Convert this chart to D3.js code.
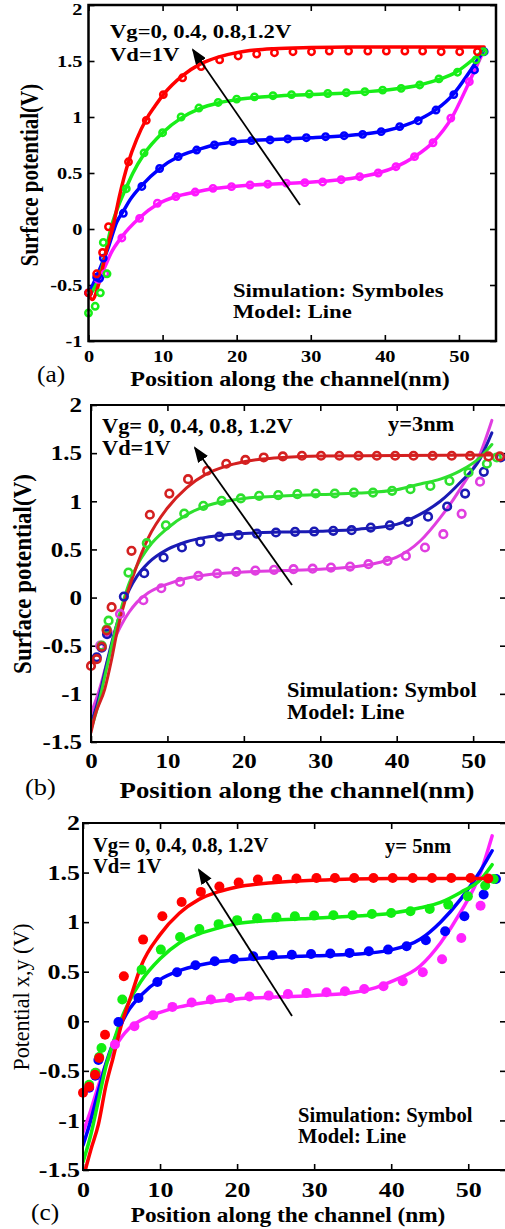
<!DOCTYPE html>
<html>
<head>
<meta charset="utf-8">
<script src="https://cdn.jsdelivr.net/npm/d3@7"></script>
<style>
  body { margin: 0; background: #fff; }
  svg { display: block; }
</style>
</head>
<body>
<svg id="chart" width="505" height="1229"></svg>
<script>
// ---- tick values ----
const xTicks = [0, 10, 20, 30, 40, 50];
const yTicksA = [-1, -0.5, 0, 0.5, 1, 1.5, 2];
const yTicksBC = [-1.5, -1, -0.5, 0, 0.5, 1, 1.5, 2];

// series order everywhere: Vg = 0 (magenta), 0.4 (blue), 0.8 (green), 1.2 (red)

// ---- panel (a): simulation symbols [x nm, V] ----
const simA_mag = [[1.3,-0.45],[2.2,-0.40],[4.5,-0.08],[6.9,0.095],[9.3,0.23],[11.8,0.29],[14.4,0.33],[16.8,0.363],[19.3,0.378],[21.8,0.393],[24.2,0.40],[26.7,0.41],[29.2,0.414],[31.6,0.42],[34.1,0.44],[36.6,0.467],[39.1,0.50],[41.5,0.556],[44.0,0.646],[46.5,0.77],[48.9,0.99],[51.4,1.315]];
const simA_blue = [[0,-0.57],[1.1,-0.43],[1.5,-0.44],[2.0,-0.26],[4.7,0.14],[7.2,0.38],[9.6,0.54],[12.1,0.646],[14.6,0.705],[17.0,0.75],[19.5,0.78],[22.0,0.789],[24.5,0.795],[26.9,0.804],[29.4,0.815],[32.0,0.824],[34.5,0.833],[37.0,0.845],[39.5,0.869],[42.0,0.914],[44.5,0.967],[46.9,1.062],[49.3,1.20],[52.1,1.42],[53.4,1.583]];
const simA_green = [[0,-0.75],[0.9,-0.69],[1.6,-0.57],[2.0,-0.12],[2.5,-0.40],[5.1,0.36],[7.5,0.68],[10.0,0.86],[12.5,1.0],[14.9,1.08],[17.5,1.13],[20.0,1.16],[22.4,1.18],[24.9,1.19],[27.4,1.20],[29.8,1.205],[32.3,1.21],[34.8,1.217],[37.3,1.226],[39.7,1.24],[42.2,1.256],[44.7,1.286],[47.3,1.34],[49.8,1.40],[52.3,1.51],[53.3,1.583]];
const simA_red = [[0,-0.57],[1.1,-0.40],[1.9,-0.21],[2.7,0.02],[5.4,0.60],[7.8,0.97],[10.1,1.20],[12.7,1.35],[15.2,1.45],[17.7,1.51],[20.2,1.545],[22.7,1.562],[25.1,1.574],[27.6,1.583],[30.1,1.583],[32.5,1.589],[35.1,1.589],[37.7,1.589],[40.2,1.589],[42.7,1.589],[45.1,1.589],[47.6,1.583],[50.1,1.583],[52.5,1.583]];

// ---- panel (a): model lines ----
const lineA_mag = [[0,-0.6],[1,-0.48],[2.2,-0.34],[3,-0.22],[4.5,-0.07],[6.9,0.1],[9.3,0.22],[11.8,0.29],[14.4,0.33],[16.8,0.36],[19.3,0.378],[24,0.4],[29,0.415],[34,0.44],[36.6,0.465],[39.1,0.5],[41.5,0.555],[44,0.645],[46.5,0.775],[49,0.99],[51.3,1.3],[53.4,1.6]];
const lineA_blue = [[0,-0.58],[1.5,-0.36],[2.7,-0.16],[3.8,0.06],[4.7,0.16],[5.6,0.26],[7.2,0.39],[9.6,0.54],[12.1,0.645],[14.6,0.705],[17,0.75],[19.5,0.775],[22,0.79],[25,0.8],[30,0.815],[35,0.835],[37.5,0.85],[40,0.875],[42.5,0.92],[44.7,0.98],[47,1.07],[49.2,1.2],[51.6,1.42],[53.4,1.6]];
const lineA_green = [[0,-0.6],[1,-0.5],[2,-0.3],[3,0.0],[4,0.2],[5.1,0.37],[6,0.5],[7.5,0.67],[10,0.86],[12.5,0.99],[15,1.075],[17.5,1.125],[20,1.155],[25,1.185],[30,1.2],[35,1.215],[40,1.24],[44.7,1.286],[47.5,1.34],[49.6,1.4],[52,1.52],[53.4,1.6]];
const lineA_red = [[0,-0.58],[0.5,-0.63],[1.5,-0.46],[2.5,-0.17],[3.3,0.02],[4.2,0.3],[5.4,0.6],[6.5,0.8],[7.8,0.98],[9,1.1],[10.1,1.2],[12.7,1.37],[15,1.47],[17.5,1.535],[20,1.575],[22.5,1.598],[25,1.61],[30,1.62],[35,1.625],[40,1.625],[45,1.625],[50,1.625],[53.4,1.625]];

// ---- panel (b): simulation symbols ----
const simB_mag = [[1.2,-0.50],[2.2,-0.36],[3.8,-0.17],[6.85,-0.028],[9.2,0.097],[11.65,0.163],[14.05,0.225],[16.5,0.25],[19.0,0.267],[21.5,0.28],[23.95,0.288],[26.5,0.295],[29.0,0.30],[31.4,0.312],[33.9,0.322],[36.3,0.347],[38.8,0.381],[41.2,0.433],[43.7,0.52],[46.1,0.658],[48.5,0.87],[50.9,1.204]];
const simB_blue = [[0.75,-0.62],[1.4,-0.52],[2.1,-0.38],[4.3,0.01],[6.96,0.253],[9.5,0.416],[11.9,0.52],[14.3,0.579],[16.8,0.634],[19.3,0.648],[21.7,0.665],[24.2,0.676],[26.7,0.683],[29.2,0.686],[31.7,0.693],[34.1,0.70],[36.6,0.727],[39.1,0.75],[41.5,0.786],[44.1,0.84],[46.6,0.946],[48.95,1.08],[51.4,1.306],[53.6,1.455]];
const simB_green = [[1.4,-0.50],[2.05,-0.33],[2.3,-0.24],[4.9,0.26],[7.3,0.565],[9.8,0.75],[12.2,0.873],[14.7,0.953],[17.1,1.005],[19.6,1.03],[22.0,1.057],[24.5,1.064],[27.0,1.074],[29.4,1.081],[31.9,1.081],[34.4,1.09],[36.9,1.09],[39.4,1.109],[41.8,1.126],[44.4,1.16],[46.9,1.213],[49.4,1.30],[51.8,1.39],[53.1,1.455]];
const simB_red = [[0,-0.71],[0.75,-0.64],[1.4,-0.51],[2.05,-0.34],[2.7,-0.10],[5.3,0.485],[7.7,0.86],[10.25,1.08],[12.7,1.23],[15.2,1.317],[17.7,1.39],[20.2,1.43],[22.6,1.455],[25.1,1.466],[27.6,1.473],[30.1,1.473],[32.5,1.473],[35.0,1.473],[37.4,1.473],[39.8,1.473],[42.2,1.473],[44.7,1.473],[47.2,1.473],[49.6,1.473],[52.0,1.466],[53.5,1.466]];

// ---- panel (b): model lines ----
const lineB_mag = [[0,-1.2],[1,-0.98],[2,-0.7],[3,-0.45],[4,-0.28],[5,-0.15],[6,-0.05],[7.5,0.05],[10,0.14],[12.5,0.2],[15,0.235],[20,0.265],[25,0.28],[30,0.295],[35,0.325],[38,0.37],[40,0.42],[43.1,0.59],[45.7,0.83],[48.3,1.126],[50.9,1.49],[52.45,1.84]];
const lineB_blue = [[0,-1.3],[1,-1.05],[2,-0.7],[3,-0.38],[4,-0.12],[5,0.08],[6,0.22],[7.5,0.36],[10,0.5],[12.5,0.58],[15,0.625],[17.5,0.65],[20,0.665],[25,0.68],[30,0.69],[35,0.71],[40,0.76],[43.1,0.866],[45.7,1.0],[48.3,1.195],[50.9,1.44],[52.45,1.71]];
const lineB_green = [[0,-1.37],[1,-1.1],[2,-0.75],[3,-0.4],[4,-0.1],[5,0.15],[6,0.33],[7.5,0.52],[10,0.72],[12.5,0.86],[15,0.95],[17.5,1.0],[20,1.03],[25,1.055],[30,1.07],[35,1.085],[40,1.12],[43.1,1.18],[45.7,1.23],[48.3,1.316],[50.9,1.455],[52.45,1.59]];
const lineB_red = [[0,-1.4],[0.5,-1.23],[1.8,-0.95],[2.7,-0.64],[3.4,-0.36],[4.5,-0.02],[5.8,0.29],[7.5,0.62],[10,0.93],[12.5,1.14],[15,1.28],[17.5,1.36],[20,1.41],[22.5,1.44],[25,1.455],[30,1.47],[40,1.475],[52.5,1.48]];

// ---- panel (c): simulation symbols ----
const simC_mag = [[1.7,-0.52],[4.15,-0.235],[6.67,-0.05],[9.1,0.06],[11.6,0.145],[14.1,0.19],[16.6,0.219],[19.1,0.235],[21.6,0.25],[24.1,0.259],[26.6,0.276],[29.0,0.286],[31.6,0.293],[34.0,0.303],[36.5,0.326],[39.0,0.353],[41.5,0.403],[44.1,0.494],[46.6,0.625],[49.1,0.84],[51.6,1.165]];
const simC_blue = [[0.8,-0.67],[1.6,-0.55],[2.0,-0.39],[4.6,-0.007],[7.2,0.235],[9.65,0.397],[12.2,0.494],[14.6,0.565],[17.1,0.605],[19.6,0.629],[22.1,0.656],[24.6,0.666],[27.1,0.672],[29.6,0.679],[32.1,0.683],[34.6,0.69],[37.1,0.706],[39.6,0.723],[42.0,0.757],[44.5,0.817],[47.0,0.908],[49.5,1.06],[52.0,1.278],[53.6,1.436]];
const simC_green = [[0.8,-0.64],[1.6,-0.52],[2.1,-0.36],[2.4,-0.27],[5.1,0.22],[7.6,0.52],[10.1,0.723],[12.6,0.85],[15.1,0.93],[17.6,0.98],[20.0,1.02],[22.6,1.04],[25.1,1.05],[27.5,1.06],[30.0,1.066],[32.5,1.07],[35.0,1.07],[37.5,1.083],[40.0,1.093],[42.5,1.11],[45.0,1.133],[47.4,1.177],[49.95,1.26],[52.2,1.37],[53.3,1.436]];
const simC_red = [[0,-0.72],[0.8,-0.66],[1.56,-0.54],[2.1,-0.37],[2.86,-0.135],[5.3,0.454],[7.8,0.824],[10.3,1.06],[12.8,1.204],[15.3,1.305],[17.7,1.36],[20.2,1.40],[22.7,1.43],[25.2,1.436],[27.7,1.44],[30.3,1.446],[32.7,1.446],[35.2,1.446],[37.7,1.446],[40.2,1.446],[42.8,1.446],[45.3,1.446],[47.8,1.446],[50.3,1.446],[52.6,1.44]];

// ---- panel (c): model lines ----
const lineC_mag = [[0,-1.12],[1,-0.9],[2,-0.65],[3,-0.43],[4,-0.28],[5,-0.16],[6,-0.07],[7.5,0.01],[10,0.09],[12.5,0.145],[15,0.18],[17.5,0.205],[20,0.225],[25,0.245],[30,0.26],[35,0.29],[38,0.34],[40,0.4],[43.8,0.56],[46.4,0.79],[49,1.1],[51.6,1.5],[53.1,1.87]];
const lineC_blue = [[0,-1.25],[1,-1.0],[2,-0.7],[3,-0.42],[4,-0.2],[5,-0.02],[6,0.12],[7.5,0.26],[10,0.42],[12.5,0.51],[15,0.565],[17.5,0.6],[20,0.62],[25,0.645],[30,0.66],[35,0.675],[40,0.72],[43.8,0.83],[46.4,1.0],[49,1.23],[51.6,1.52],[53.1,1.72]];
const lineC_green = [[0,-1.42],[1,-1.15],[2,-0.8],[3,-0.45],[4,-0.2],[5,0.03],[6,0.2],[7.5,0.4],[10,0.63],[12.5,0.79],[15,0.88],[17.5,0.94],[20,0.985],[25,1.02],[30,1.04],[35,1.06],[40,1.09],[43.8,1.145],[46.4,1.2],[49,1.3],[51.6,1.43],[53.1,1.58]];
const lineC_red = [[0.3,-1.5],[1,-1.3],[2,-1.04],[3,-0.64],[3.9,-0.37],[5,-0.03],[6.3,0.27],[7.5,0.55],[10,0.874],[12.5,1.09],[15,1.227],[17.5,1.305],[20,1.355],[25,1.4],[30,1.422],[35,1.436],[40,1.44],[53.2,1.44]];

const SERIF = '"Liberation Serif", "Times New Roman", serif';

// layout + style for each panel (pixel positions, not data)
const panels = [
  {
    box: { left: 88.5, right: 496, top: 5, bottom: 341 }, xMax: 55, yDomain: [-1, 2], yTicks: yTicksA,
    colors: ['#ff18ff', '#0000ff', '#18ee18', '#ff0000'],
    sim: [simA_mag, simA_blue, simA_green, simA_red],
    model: [lineA_mag, lineA_blue, lineA_green, lineA_red],
    marker: { r: 3.2, sw: 2.5, filled: false }, lineW: 3.5, frameW: 2.5,
    tick: { size: 17, s: 1.2, yPad: 6, xBase: 21 },
    xLabel: { text: 'Position along the channel(nm)', x: 290, y: 386, size: 21, s: 1.15 },
    yLabel: { text: 'Surface potential(V)', x: 38, y: 175, size: 21, s: 1.15, weight: 'bold' },
    tag: { text: '(a)', x: 37, y: 382, size: 23 },
    noteFont: { size: 19.5, s: 1.16 },
    notes: [
      { text: 'Vg=0, 0.4, 0.8,1.2V', x: 110, y: 38 },
      { text: 'Vd=1V', x: 110, y: 61 },
      { text: 'Simulation: Symboles', x: 233, y: 297 },
      { text: 'Model: Line', x: 233, y: 318 }
    ],
    arrow: { from: [300, 205], to: [193, 50] }
  },
  {
    box: { left: 91, right: 506, top: 405, bottom: 742 }, xMax: 54.3, yDomain: [-1.5, 2], yTicks: yTicksBC,
    colors: ['#e03ee0', '#1a1ab4', '#2ee02e', '#d42020'],
    sim: [simB_mag, simB_blue, simB_green, simB_red],
    model: [lineB_mag, lineB_blue, lineB_green, lineB_red],
    marker: { r: 3.8, sw: 2.6, filled: false }, lineW: 3, frameW: 2,
    tick: { size: 20, s: 1.25, yPad: 9, xBase: 26 },
    xLabel: { text: 'Position along the channel(nm)', x: 297, y: 798, size: 23, s: 1.165 },
    yLabel: { text: 'Surface potential(V)', x: 31, y: 574, size: 23, s: 1.1, weight: 'bold' },
    tag: { text: '(b)', x: 25, y: 795, size: 24 },
    noteFont: { size: 20, s: 1.12 },
    notes: [
      { text: 'Vg= 0, 0.4, 0.8, 1.2V', x: 102, y: 433 },
      { text: 'Vd=1V', x: 102, y: 455 },
      { text: 'y=3nm', x: 388, y: 431 },
      { text: 'Simulation: Symbol', x: 287, y: 697 },
      { text: 'Model: Line', x: 287, y: 719 }
    ],
    arrow: { from: [292, 585], to: [195, 448] }
  },
  {
    box: { left: 83, right: 506, top: 823, bottom: 1170 }, xMax: 54.9, yDomain: [-1.5, 2], yTicks: yTicksBC,
    colors: ['#ff22ff', '#0000ff', '#11ee11', '#ff0000'],
    sim: [simC_mag, simC_blue, simC_green, simC_red],
    model: [lineC_mag, lineC_blue, lineC_green, lineC_red],
    marker: { r: 5, sw: 0, filled: true }, lineW: 3.5, frameW: 2,
    tick: { size: 20, s: 1.3, yPad: 3, xBase: 27 },
    xLabel: { text: 'Position along the channel (nm)', x: 288, y: 1222, size: 22, s: 1.06 },
    yLabel: { text: 'Potential x,y (V)', x: 29, y: 997, size: 22, s: 1.05, weight: 'normal' },
    tag: { text: '(c)', x: 31, y: 1220, size: 23 },
    noteFont: { size: 20, s: 1.03 },
    notes: [
      { text: 'Vg= 0, 0.4, 0.8, 1.2V', x: 93, y: 852 },
      { text: 'Vd= 1V', x: 93, y: 873 },
      { text: 'y= 5nm', x: 385, y: 853 },
      { text: 'Simulation: Symbol', x: 298, y: 1122 },
      { text: 'Model: Line', x: 298, y: 1143 }
    ],
    arrow: { from: [292, 1016], to: [199, 870] }
  }
];

const svg = d3.select('#chart');
const defs = svg.append('defs');

defs.append('marker')
  .attr('id', 'arrowHead')
  .attr('markerUnits', 'userSpaceOnUse')
  .attr('markerWidth', 16).attr('markerHeight', 12)
  .attr('refX', 14).attr('refY', 6)
  .attr('orient', 'auto')
  .append('path')
  .attr('d', 'M0,0 L16,6 L0,12 Z')
  .attr('fill', '#000');

// plain text with a horizontal stretch, like the squeezed figure
const addText = (g, txt, x, y, size, s, weight, anchor) =>
  g.append('text')
    .attr('transform', `translate(${x},${y}) scale(${s},1)`)
    .attr('font-family', SERIF)
    .attr('font-size', size)
    .attr('font-weight', weight)
    .attr('text-anchor', anchor || 'start')
    .text(txt);

const drawPanel = (p, i) => {
  const g = svg.append('g');
  const { left, right, top, bottom } = p.box;

  const x = d3.scaleLinear().domain([0, p.xMax]).range([left, right]);
  const y = d3.scaleLinear().domain(p.yDomain).range([bottom, top]);

  defs.append('clipPath').attr('id', 'clip' + i)
    .append('rect').attr('x', left).attr('y', top).attr('width', right - left).attr('height', bottom - top);

  // ticks pointing inwards on all four sides
  const tl = 6;
  const styleAxis = sel => {
    sel.select('.domain').remove();
    sel.selectAll('line').attr('stroke', '#000').attr('stroke-width', 1.6);
    sel.attr('font-family', SERIF).attr('font-size', p.tick.size).attr('font-weight', 'bold');
  };

  const gB = g.append('g').attr('transform', `translate(0,${bottom})`)
    .call(d3.axisBottom(x).tickValues(xTicks).tickSizeInner(-tl).tickSizeOuter(0).tickFormat(d => String(d)));
  styleAxis(gB);
  gB.selectAll('text').attr('y', p.tick.xBase).attr('dy', null).attr('transform', `scale(${p.tick.s},1)`);

  const gL = g.append('g').attr('transform', `translate(${left},0)`)
    .call(d3.axisLeft(y).tickValues(p.yTicks).tickSizeInner(-tl).tickSizeOuter(0).tickFormat(d => String(d)));
  styleAxis(gL);
  gL.selectAll('text')
    .attr('x', -p.tick.yPad / p.tick.s)
    .attr('dy', '0.34em')
    .attr('transform', `scale(${p.tick.s},1)`);
  // keep the top label inside the picture
  gL.selectAll('.tick').filter(d => y(d) < 8).select('text').attr('dy', '0.55em');

  const gT = g.append('g').attr('transform', `translate(0,${top})`)
    .call(d3.axisTop(x).tickValues(xTicks).tickSizeInner(-tl).tickSizeOuter(0).tickFormat(''));
  styleAxis(gT);

  const gR = g.append('g').attr('transform', `translate(${right},0)`)
    .call(d3.axisRight(y).tickValues(p.yTicks).tickSizeInner(-tl).tickSizeOuter(0).tickFormat(''));
  styleAxis(gR);

  // series: model line, then its simulation symbols
  const line = d3.line().x(d => x(d[0])).y(d => y(d[1])).curve(d3.curveMonotoneX);
  const lines = g.append('g').attr('clip-path', `url(#clip${i})`);
  const dots = g.append('g');

  p.model.forEach((m, k) => {
    lines.append('path')
      .datum(m)
      .attr('d', line)
      .attr('fill', 'none')
      .attr('stroke', p.colors[k])
      .attr('stroke-width', p.lineW)
      .attr('stroke-linecap', 'round')
      .attr('stroke-linejoin', 'round');

    dots.append('g').selectAll('circle')
      .data(p.sim[k])
      .join('circle')
      .attr('cx', d => x(d[0]))
      .attr('cy', d => y(d[1]))
      .attr('r', p.marker.r)
      .attr('fill', p.marker.filled ? p.colors[k] : 'none')
      .attr('stroke', p.colors[k])
      .attr('stroke-width', p.marker.sw);
  });

  // frame box
  g.append('rect')
    .attr('x', left).attr('y', top)
    .attr('width', right - left).attr('height', bottom - top)
    .attr('fill', 'none').attr('stroke', '#000').attr('stroke-width', p.frameW);

  // annotations
  p.notes.forEach(n => addText(g, n.text, n.x, n.y, p.noteFont.size, p.noteFont.s, 'bold'));

  g.append('line')
    .attr('x1', p.arrow.from[0]).attr('y1', p.arrow.from[1])
    .attr('x2', p.arrow.to[0]).attr('y2', p.arrow.to[1])
    .attr('stroke', '#000').attr('stroke-width', 1.8)
    .attr('marker-end', 'url(#arrowHead)');

  // axis titles
  addText(g, p.xLabel.text, p.xLabel.x, p.xLabel.y, p.xLabel.size, p.xLabel.s, 'bold', 'middle');
  addText(g, p.tag.text, p.tag.x, p.tag.y, p.tag.size, 1.1, 'normal');

  g.append('text')
    .attr('transform', `translate(${p.yLabel.x},${p.yLabel.y}) rotate(-90) scale(1,${p.yLabel.s})`)
    .attr('font-family', SERIF)
    .attr('font-size', p.yLabel.size)
    .attr('font-weight', p.yLabel.weight)
    .attr('text-anchor', 'middle')
    .text(p.yLabel.text);
};

panels.forEach(drawPanel);
</script>
</body>
</html>
